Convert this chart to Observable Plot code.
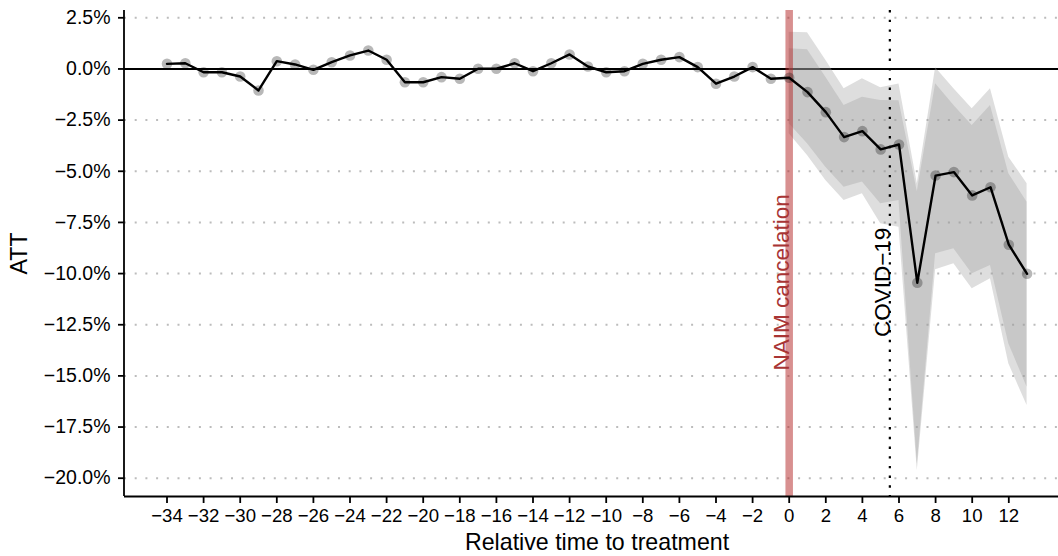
<!DOCTYPE html>
<html>
<head>
<meta charset="utf-8">
<script src="https://cdn.jsdelivr.net/npm/d3@7"></script>
<script src="https://cdn.jsdelivr.net/npm/@observablehq/plot@0.6"></script>
<style>
  html, body { margin: 0; padding: 0; background: #fff; }
  #chart svg { display: block; }
</style>
</head>
<body>
<div id="chart"></div>
<script>
// Relative time to treatment
const relTime = [-34,-33,-32,-31,-30,-29,-28,-27,-26,-25,-24,-23,-22,-21,-20,-19,-18,-17,-16,-15,-14,-13,-12,-11,-10,-9,-8,-7,-6,-5,-4,-3,-2,-1,0,1,2,3,4,5,6,7,8,9,10,11,12,13];
// ATT estimates (percent)
const attPct = [0.25,0.28,-0.16,-0.16,-0.37,-1.05,0.38,0.22,-0.04,0.33,0.66,0.90,0.45,-0.65,-0.65,-0.40,-0.48,0.01,0.01,0.28,-0.11,0.28,0.71,0.12,-0.16,-0.11,0.25,0.45,0.58,0.09,-0.72,-0.37,0.09,-0.48,-0.43,-1.13,-2.11,-3.33,-3.04,-3.93,-3.69,-10.45,-5.21,-5.04,-6.18,-5.78,-8.59,-10.01];

// Confidence bands (percent), post period
const bandTime = [0,1,2,3,4,5,6,7,8,9,10,11,12,13];
const outerHi = [1.80,1.77,0.42,-0.97,-0.48,-0.92,-0.74,-5.61,0.06,-0.97,-1.95,-0.97,-4.31,-5.61];
const innerHi = [0.99,0.94,-0.40,-1.78,-1.38,-1.54,-1.55,-6.00,-0.72,-1.78,-2.76,-1.78,-5.12,-6.51];
const innerLo = [-2.68,-3.66,-4.80,-5.78,-5.53,-6.59,-6.43,-19.30,-9.03,-8.79,-10.01,-9.60,-13.43,-15.55];
const outerLo = [-3.17,-4.23,-5.45,-6.43,-6.10,-7.57,-7.73,-19.62,-9.81,-9.52,-10.74,-10.25,-14.41,-16.45];

// Ticks
const yTicks = [0.025,0,-0.025,-0.05,-0.075,-0.1,-0.125,-0.15,-0.175,-0.2];
const xTicks = [-34,-32,-30,-28,-26,-24,-22,-20,-18,-16,-14,-12,-10,-8,-6,-4,-2,0,2,4,6,8,10,12];

// Events
const naimTime = 0;
const covidTime = 5.5;

const series = relTime.map((t, i) => ({t, att: attPct[i] / 100}));
const bands = bandTime.map((t, i) => ({
  t,
  oHi: outerHi[i] / 100, iHi: innerHi[i] / 100,
  iLo: innerLo[i] / 100, oLo: outerLo[i] / 100
}));

const FONT = "'Liberation Sans', Arial, Helvetica, sans-serif";
const xDom = [-36.35, 15.35];
const yDom = [-0.20894, 0.02857];
const YTICK_FS = 19.5;
const XTICK_FS = 18.6;

const chart = Plot.plot({
  width: 1058,
  height: 556,
  marginLeft: 124,
  marginRight: 0,
  marginTop: 10,
  marginBottom: 60,
  style: {fontFamily: FONT, fontSize: YTICK_FS + "px", color: "#000", background: "#fff", overflow: "hidden"},
  x: {domain: xDom, range: [123.5, 1069.6]},
  y: {domain: yDom},
  marks: [
    Plot.ruleY(yTicks, {stroke: "#bcbcbc", strokeWidth: 2, strokeDasharray: "2,8.7"}),
    Plot.ruleY([0], {stroke: "#000", strokeWidth: 2}),
    Plot.areaY(bands, {x: "t", y1: "oLo", y2: "oHi", fill: "#9c9c9c", fillOpacity: 0.333}),
    Plot.areaY(bands, {x: "t", y1: "iLo", y2: "iHi", fill: "#9c9c9c", fillOpacity: 0.333}),
    Plot.ruleX([naimTime], {stroke: "firebrick", strokeOpacity: 0.5, strokeWidth: 7.5}),
    Plot.ruleX([covidTime], {stroke: "#000", strokeWidth: 2.2, strokeDasharray: "2.4,7.3"}),
    Plot.dot(series, {x: "t", y: "att", r: 5.3, fill: "#000", fillOpacity: 0.28, stroke: null}),
    Plot.line(series, {x: "t", y: "att", stroke: "#000", strokeWidth: 2.4}),
    Plot.text(["NAIM cancelation"], {x: naimTime, y: -0.1043, rotate: -90, textAnchor: "middle", lineAnchor: "bottom", fill: "#a83434", fontSize: 22.5}),
    Plot.text(["COVID−19"], {x: covidTime, y: -0.1043, rotate: -90, textAnchor: "middle", lineAnchor: "bottom", fill: "#000", fontSize: 22.5}),
    // axis lines
    Plot.ruleX([xDom[0]], {stroke: "#000", strokeWidth: 1.8}),
    Plot.ruleY([yDom[0]], {stroke: "#000", strokeWidth: 1.8}),
    Plot.axisY({ticks: yTicks, tickFormat: d3.format(".1%"), tickSize: 6, tickPadding: 8, strokeWidth: 1.8, label: null, fontSize: YTICK_FS, fill: "#000"}),
    Plot.axisX({ticks: xTicks, tickFormat: d3.format("d"), tickSize: 7, tickPadding: 5.5, strokeWidth: 1.8, label: null, fontSize: XTICK_FS, fill: "#000"}),
    // axis titles
    Plot.text(["Relative time to treatment"], {x: (xDom[0] + xDom[1]) / 2, frameAnchor: "bottom", dy: 53.5, lineAnchor: "bottom", textAnchor: "middle", fontSize: 23.2, fill: "#000"}),
    Plot.text(["ATT"], {frameAnchor: "left", dx: -98, rotate: -90, textAnchor: "middle", lineAnchor: "bottom", fontSize: 23.2, fill: "#000"})
  ]
});

document.getElementById("chart").appendChild(chart);
</script>
</body>
</html>
